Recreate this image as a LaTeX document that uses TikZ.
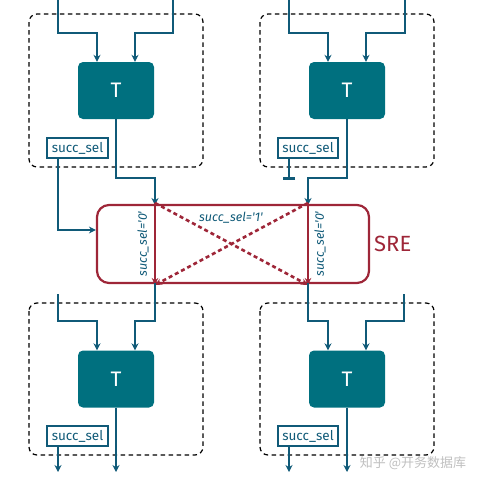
\documentclass[tikz,border=0pt]{standalone}
\usepackage{fontspec}
\setmainfont{Fira Sans}
\newfontfamily\cjkfont{Noto Sans CJK SC}
\usetikzlibrary{arrows.meta}
\definecolor{tealbox}{RGB}{0,112,127}
\definecolor{lineblue}{RGB}{16,90,120}
\definecolor{sred}{RGB}{158,38,56}
\tikzset{
  grp/.style={draw=black, line width=1.2pt, rounded corners=8pt, dash pattern=on 4.5pt off 3.5pt},
  tbox/.style={fill=tealbox, draw=none, rounded corners=5pt, minimum width=76pt, minimum height=57pt, text=white, font=\fontsize{21}{21}\selectfont, inner sep=0pt},
  selbox/.style={draw=lineblue, fill=white, line width=1.2pt, minimum width=61pt, minimum height=20pt, inner sep=0pt, text=lineblue, font=\fontsize{13.5}{13.5}\selectfont},
  wire/.style={draw=lineblue, line width=2.8pt},
  arr/.style={wire, -{Stealth[length=7pt,width=7pt]}},
  barw/.style={wire, -{Bar[width=12pt,line width=2.8pt]}},
  sre/.style={draw=sred, line width=2.2pt, rounded corners=12pt, minimum width=272pt, minimum height=78pt},
  rarr/.style={draw=sred, line width=2.2pt, -{Stealth[length=7pt,width=6.5pt]}},
  rdash/.style={draw=sred, line width=2.6pt, dash pattern=on 4pt off 3pt, -{Stealth[length=7pt,width=6.5pt]}},
  lbl/.style={text=lineblue, font=\itshape\fontsize{12.5}{12.5}\selectfont, inner sep=0pt},
}
\begin{document}
\begin{tikzpicture}[x=1pt,y=-1pt]
\useasboundingbox (0,0) rectangle (484,485);
% group boxes
\draw[grp] (29,14) rectangle (203,167);
\draw[grp] (260,14) rectangle (434,167);
\draw[grp] (29,303) rectangle (203,455);
\draw[grp] (260,303) rectangle (434,455);
% T boxes
\node[tbox] (Ttl) at (116,90.5) {T};
\node[tbox] (Ttr) at (347,90.5) {T};
\node[tbox] (Tbl) at (116,379) {T};
\node[tbox] (Tbr) at (347,379) {T};
% succ_sel boxes
\node[selbox] (stl) at (77.5,148) {succ\_sel};
\node[selbox, minimum width=60pt] (str) at (308,148) {succ\_sel};
\node[selbox] (sbl) at (77.5,436) {succ\_sel};
\node[selbox, minimum width=60pt] (sbr) at (308,436) {succ\_sel};
% SRE
\node[sre] (sre) at (233,244) {};
\node[text=sred, font=\fontsize{22}{22}\selectfont, anchor=west, inner sep=0pt] (srel) at (374,244) {SRE};
% free ends
\coordinate (itl1) at (58,0);
\coordinate (itl2) at (173,0);
\coordinate (itr1) at (289,0);
\coordinate (itr2) at (405,0);
\coordinate (ibl2) at (58,294);
\coordinate (ibr2) at (404,294);
\coordinate (otl) at (58,472);
\coordinate (obl) at (116,472);
\coordinate (otr) at (289,472);
\coordinate (obr) at (347,472);
\coordinate (jl) at (155,178);
\coordinate (jr) at (308,178);
\coordinate (sa) at (155,205);
\coordinate (sb) at (308,205);
\coordinate (sc) at (155,283);
\coordinate (sd) at (308,283);
\coordinate (kl) at (155,321);
\coordinate (kr) at (308,321);
\coordinate (barend) at (289,180);
% inputs top
\draw[arr] (itl1) |- (97,33) -- ([xshift=-19pt]Ttl.north);
\draw[arr] (itl2) |- (135,33) -- ([xshift=19pt]Ttl.north);
\draw[arr] (itr1) |- (328,33) -- ([xshift=-19pt]Ttr.north);
\draw[arr] (itr2) |- (366,33) -- ([xshift=19pt]Ttr.north);
% top outputs into SRE
\draw[arr] (Ttl.south) |- (jl) -- (sa);
\draw[arr] (Ttr.south) |- (jr) -- (sb);
\draw[arr] ([xshift=-19.5pt]stl.south) |- (sre.west |- 0,230);
\draw[barw] ([xshift=-19pt]str.south) -- (barend);
% SRE internals
\draw[rarr] ([yshift=2pt]sa) -- ([yshift=-2pt]sc);
\draw[rarr] ([yshift=2pt]sb) -- ([yshift=-2pt]sd);
\draw[rdash] ([yshift=2pt]sa) -- ([yshift=-2pt]sd);
\draw[rdash] ([yshift=2pt]sb) -- ([yshift=-2pt]sc);
\node[lbl, rotate=90] (l0a) at (143,244) {succ\_sel=\textquotesingle 0\textquotesingle};
\node[lbl, rotate=90] (l0b) at (320,244) {succ\_sel=\textquotesingle 0\textquotesingle};
\node[lbl] (l1) at (231,218) {succ\_sel=\textquotesingle 1\textquotesingle};
% bottom inputs
\draw[arr] (sc) |- (kl) -| ([xshift=19pt]Tbl.north);
\draw[arr] (ibl2) |- (97,321) -- ([xshift=-19pt]Tbl.north);
\draw[arr] (sd) |- (kr) -| ([xshift=-19pt]Tbr.north);
\draw[arr] (ibr2) |- (366,321) -- ([xshift=19pt]Tbr.north);
% bottom outputs
\draw[arr] ([xshift=-19.5pt]sbl.south) -- (otl);
\draw[arr] (Tbl.south) -- (obl);
\draw[arr] ([xshift=-19pt]sbr.south) -- (otr);
\draw[arr] (Tbr.south) -- (obr);
% watermark
\node[text=black!25, font=\cjkfont\fontsize{13}{13}\selectfont, inner sep=0pt] (wm) at (413,463) {知乎 @开务数据库};
\end{tikzpicture}
\end{document}
